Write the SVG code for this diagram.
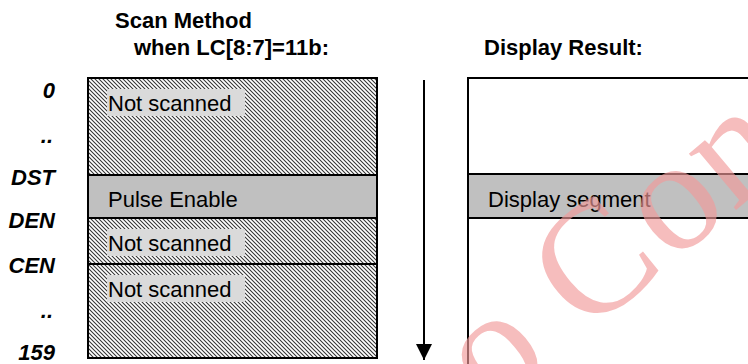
<svg xmlns="http://www.w3.org/2000/svg" width="748" height="364" viewBox="0 0 748 364">
  <style>
    .title { font-family: "Liberation Sans", Arial, sans-serif; font-weight: bold; font-size: 22px; fill: #000; }
    .lbl { font-family: "Liberation Sans", Arial, sans-serif; font-weight: bold; font-style: italic; font-size: 22px; fill: #000; text-anchor: end; }
    .txt { font-family: "Liberation Sans", Arial, sans-serif; font-size: 22px; fill: #000; }
    .hatch { fill: url(#hatch); stroke: #000; stroke-width: 2; }
    .band { fill: #c0c0c0; stroke: #000; stroke-width: 2; }
    .tagbg { fill: #dadada; }
    .edge { stroke: #000; stroke-width: 2; fill: none; }
    .wm { font-family: "Liberation Serif", "Times New Roman", serif; font-size: 160px; fill: #f29a9a; opacity: 0.65; }
  </style>
  <defs>
    <pattern id="hatch" patternUnits="userSpaceOnUse" width="4" height="4">
      <rect width="4" height="4" fill="#ffffff"/>
      <path d="M-1,-1 L5,5 M-1,3 L1,5 M3,-1 L5,1" stroke="#333333" stroke-width="1.05"/>
    </pattern>
    <marker id="arrowhead" markerUnits="userSpaceOnUse" markerWidth="16" markerHeight="16" refX="16" refY="8" orient="auto">
      <path d="M0,0 L16,8 L0,16 Z" fill="#000"/>
    </marker>
  </defs>

  <g id="titles">
    <text class="title" x="115" y="28">Scan Method</text>
    <text class="title" x="134" y="55">when LC[8:7]=11b:</text>
    <text class="title" x="484" y="55">Display Result:</text>
  </g>

  <g id="row-labels">
    <text class="lbl" x="55" y="98">0</text>
    <text class="lbl" x="53" y="143">..</text>
    <text class="lbl" x="55" y="185">DST</text>
    <text class="lbl" x="55" y="228">DEN</text>
    <text class="lbl" x="55" y="273">CEN</text>
    <text class="lbl" x="53" y="318">..</text>
    <text class="lbl" x="55" y="360">159</text>
  </g>

  <g id="scan-method">
    <g id="row-not-scanned-1">
      <rect class="hatch" x="88" y="78" width="289" height="97"/>
      <rect class="tagbg" x="107" y="89" width="138" height="27"/>
      <text class="txt" x="108" y="111">Not scanned</text>
    </g>
    <g id="row-pulse-enable">
      <rect class="band" x="88" y="175" width="289" height="43"/>
      <text class="txt" x="108" y="207">Pulse Enable</text>
    </g>
    <g id="row-not-scanned-2">
      <rect class="hatch" x="88" y="218" width="289" height="46"/>
      <rect class="tagbg" x="107" y="229" width="138" height="27"/>
      <text class="txt" x="108" y="251">Not scanned</text>
    </g>
    <g id="row-not-scanned-3">
      <rect class="hatch" x="88" y="264" width="289" height="94"/>
      <rect class="tagbg" x="107" y="275" width="138" height="27"/>
      <text class="txt" x="108" y="297">Not scanned</text>
    </g>
  </g>

  <g id="display-result">
    <path class="edge" d="M468,366 L468,78 L750,78"/>
    <rect class="band" x="468" y="174" width="290" height="44"/>
    <text class="txt" x="488" y="207">Display segment</text>
  </g>

  <g id="connectors">
    <line x1="424" y1="80" x2="424" y2="360" stroke="#000" stroke-width="2" marker-end="url(#arrowhead)"/>
  </g>

  <g id="watermark">
    <text class="wm" transform="translate(586.1 335.7) rotate(-40)"><tspan x="-122">o</tspan><tspan x="0">C</tspan><tspan x="112">o</tspan><tspan x="192">n</tspan><tspan x="286">f</tspan></text>
  </g>
</svg>
